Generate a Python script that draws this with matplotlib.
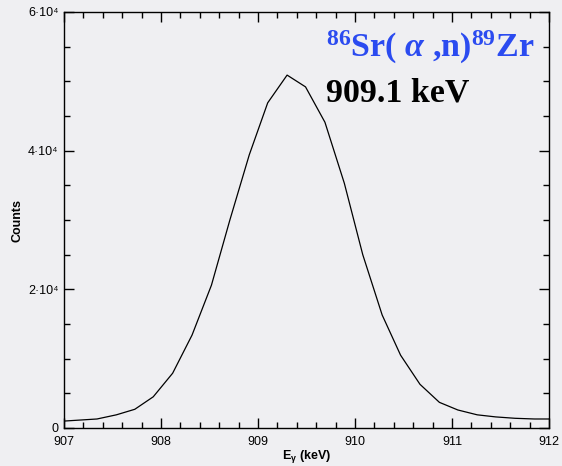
import numpy as np
import matplotlib.pyplot as plt
from matplotlib.ticker import MultipleLocator, FixedLocator, FixedFormatter

# peak spectrum
energy = [907.0, 907.34, 907.54, 907.73, 907.92, 908.12, 908.32, 908.52, 908.71,
          908.91, 909.10, 909.30, 909.49, 909.69, 909.89, 910.08, 910.28, 910.47,
          910.67, 910.87, 911.06, 911.26, 911.45, 911.65, 911.85, 912.0]
counts = [1000, 1300, 1900, 2700, 4500, 7900, 13400, 20600, 30000,
          39400, 46900, 50900, 49200, 44100, 35300, 25000, 16300, 10500,
          6300, 3700, 2600, 1900, 1600, 1400, 1300, 1300]

yticks = [0, 20000, 40000, 60000]
ylabels = ["0", "2·10⁴", "4·10⁴", "6·10⁴"]

bg = "#EFEFF2"
plt.rcParams['font.family'] = ['Liberation Sans', 'DejaVu Sans']
plt.rcParams['mathtext.fontset'] = 'custom'
plt.rcParams['mathtext.rm'] = 'Liberation Serif:bold'
plt.rcParams['mathtext.it'] = 'Liberation Serif:bold:italic'
plt.rcParams['mathtext.sf'] = 'Liberation Sans:bold'

fig = plt.figure(figsize=(5.62, 4.66), dpi=100, facecolor=bg)
ax = fig.add_axes([64/562, 1-428/466, 485/562, 416/466])
ax.set_facecolor(bg)

ax.plot(energy, counts, color="black", lw=0.9)

ax.set_xlim(907, 912)
ax.set_ylim(0, 60000)
ax.xaxis.set_major_locator(MultipleLocator(1))
ax.xaxis.set_minor_locator(MultipleLocator(0.2))
ax.yaxis.set_major_locator(FixedLocator(yticks))
ax.yaxis.set_major_formatter(FixedFormatter(ylabels))
ax.yaxis.set_minor_locator(MultipleLocator(5000))
ax.tick_params(which="both", direction="in", top=True, right=True, width=1.0,
               labelsize=9)
ax.tick_params(which="major", length=7)
ax.tick_params(which="minor", length=4.5)
ax.tick_params(axis="x", pad=6)
ax.tick_params(axis="y", pad=4)
for s in ax.spines.values():
    s.set_linewidth(1.0)

ax.set_xlabel(r"$\mathsf{E_\gamma}$ (keV)", fontsize=9, fontweight="bold", labelpad=0)
ax.set_ylabel("Counts", fontsize=9, fontweight="bold", labelpad=3)

fig.text(326/562, 1-57/466, r"$^{86}$Sr( $\alpha$ ,n)$^{89}$Zr", color="#2B4BF0",
         fontsize=24.5, fontweight="bold", family="Liberation Serif")
fig.text(326/562, 1-102/466, "909.1 keV", color="black",
         fontsize=24.5, fontweight="bold", family="Liberation Serif")

plt.savefig("out.png", dpi=100, facecolor=bg)
